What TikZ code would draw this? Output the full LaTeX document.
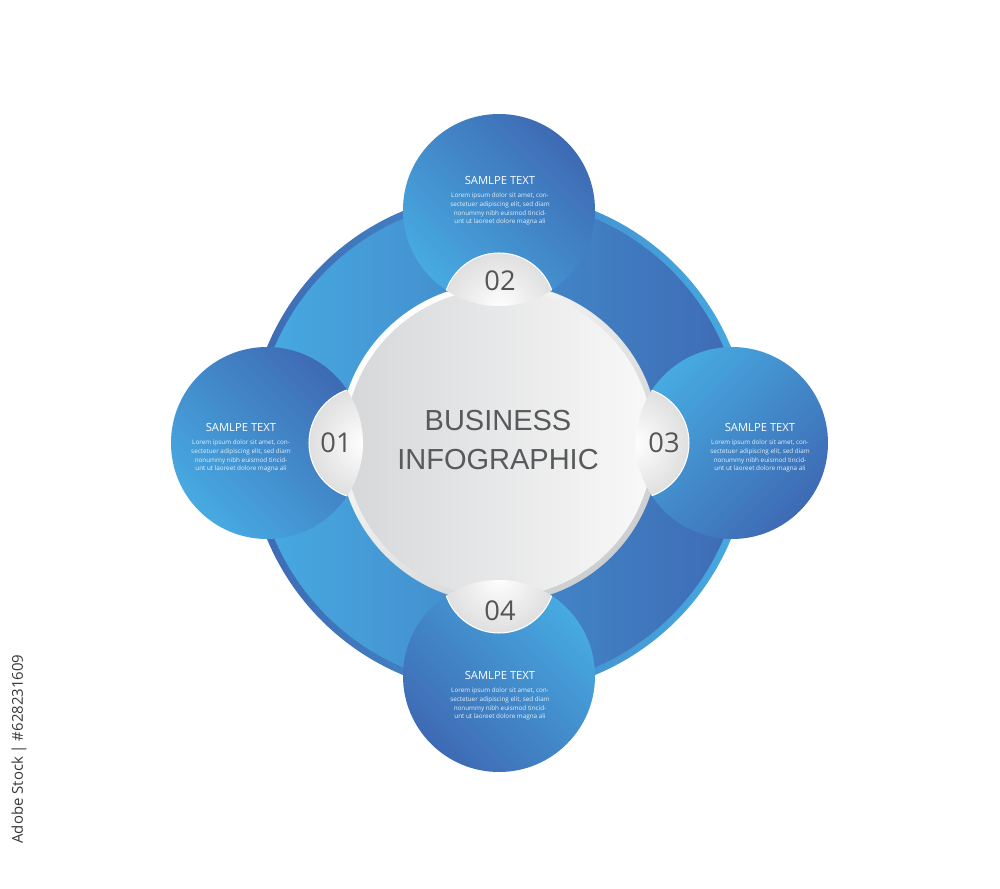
\documentclass[tikz,border=0pt]{standalone}
\usepackage{fontspec}
\usetikzlibrary{positioning}
\newfontfamily\headfont{Liberation Sans}
\newfontfamily\bodyfont{Open Sans}

\definecolor{darkblue}{HTML}{3E6AB4}
\definecolor{lightblue}{HTML}{47AAE1}
\definecolor{headgray}{HTML}{58595B}
\definecolor{numgray}{HTML}{545557}
\definecolor{discgray}{HTML}{D6D7D9}
\definecolor{rimgray}{HTML}{CDCECF}

\begin{document}
\begin{tikzpicture}[x=0.04cm,y=-0.04cm,
    title/.style={font=\bodyfont\fontsize{12.8}{15}\selectfont, text=white},
    lorem/.style={font=\bodyfont\fontsize{7.2}{9.9}\selectfont, text=white!85!lightblue, align=center},
    num/.style={font=\bodyfont\fontsize{31}{36}\selectfont, text=numgray},
    tab/.style={inner color=white, outer color=gray!25}]
  \fill[white] (0,0) rectangle (1000,889);
  \useasboundingbox (0,0) rectangle (1000,889);

  \coordinate (c) at (499,443);
  % outer ring
  \shade[left color=darkblue, right color=lightblue] (c) circle (251);
  \shade[left color=lightblue, right color=darkblue] (c) circle (244);

  % four satellites
  \coordinate (s1) at (267,443);
  \coordinate (s2) at (499,210);
  \coordinate (s3) at (732,443);
  \coordinate (s4) at (499,676);
  \shade[top color=darkblue, bottom color=lightblue, shading angle=-45] (s1) circle (96);
  \shade[top color=darkblue, bottom color=lightblue, shading angle=-45] (s2) circle (96);
  \shade[top color=lightblue, bottom color=darkblue, shading angle=45] (s3) circle (96);
  \shade[top color=lightblue, bottom color=darkblue, shading angle=-45] (s4) circle (96);

  % centre disc
  \shade[top color=white, bottom color=rimgray, shading angle=45] (c) circle (160);
  \shade[left color=discgray, right color=gray!5] (c) circle (154);

  % number tabs
  \coordinate (d1) at (365,443);
  \coordinate (d2) at (499,309);
  \coordinate (d3) at (633,443);
  \coordinate (d4) at (499,577);
  \foreach \s/\d in {s1/d1,s2/d2,s3/d3,s4/d4} {
    \begin{scope}
      \clip (\s) circle (96);
      \shade[tab] (\d) circle (56);
      \draw[white, line width=1.2pt] (\d) circle (56);
    \end{scope}
  }

  \node[num] (n1) at (336,443) {01};
  \node[num] (n2) at (500,281) {02};
  \node[num] (n3) at (664,443) {03};
  \node[num] (n4) at (500,611) {04};

  \node[font=\headfont\fontsize{33}{45}\selectfont, text=headgray, align=center]
    (head) at (498,440) {BUSINESS\\INFOGRAPHIC};

  % satellite texts
  \node[title] (t1) at (241,427) {SAMLPE TEXT};
  \node[lorem, below=1mm of t1] (l1) {Lorem ipsum dolor sit amet, con-\\sectetuer adipiscing elit, sed diam\\nonummy nibh euismod tincid-\\unt ut laoreet dolore magna ali};
  \node[title] (t2) at (500,180) {SAMLPE TEXT};
  \node[lorem, below=1mm of t2] (l2) {Lorem ipsum dolor sit amet, con-\\sectetuer adipiscing elit, sed diam\\nonummy nibh euismod tincid-\\unt ut laoreet dolore magna ali};
  \node[title] (t3) at (760,427) {SAMLPE TEXT};
  \node[lorem, below=1mm of t3] (l3) {Lorem ipsum dolor sit amet, con-\\sectetuer adipiscing elit, sed diam\\nonummy nibh euismod tincid-\\unt ut laoreet dolore magna ali};
  \node[title] (t4) at (500,675) {SAMLPE TEXT};
  \node[lorem, below=1mm of t4] (l4) {Lorem ipsum dolor sit amet, con-\\sectetuer adipiscing elit, sed diam\\nonummy nibh euismod tincid-\\unt ut laoreet dolore magna ali};

  \node[rotate=90, font=\bodyfont\fontsize{17}{20}\selectfont, text=black!78]
    (stockid) at (19,749) {Adobe Stock | \#628231609};
\end{tikzpicture}
\end{document}
